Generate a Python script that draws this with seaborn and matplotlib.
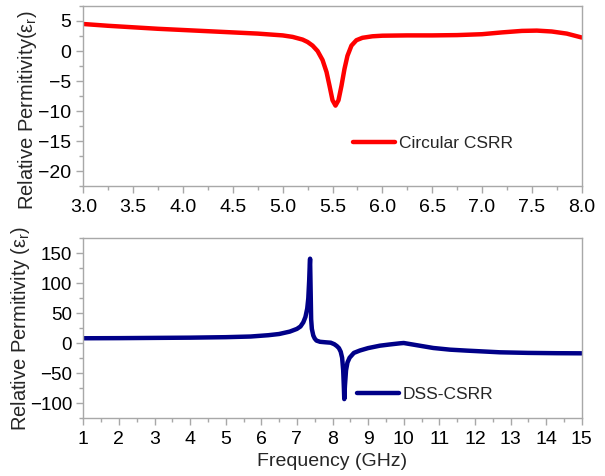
import numpy as np
import pandas as pd
import matplotlib
matplotlib.use("Agg")
import matplotlib.pyplot as plt
import seaborn as sns
from matplotlib.ticker import MultipleLocator

# Circular CSRR permittivity vs frequency (GHz)
freq_circ = [3.0, 3.25, 3.5, 3.75, 4.0, 4.25, 4.5, 4.75, 5.0, 5.1, 5.2, 5.25,
             5.3, 5.35, 5.4, 5.44, 5.47, 5.50, 5.53, 5.56, 5.59, 5.62, 5.65,
             5.69, 5.74, 5.8, 5.9, 6.0, 6.25, 6.5, 6.75, 7.0, 7.2, 7.4, 7.55,
             7.7, 7.85, 8.0]
eps_circ = [4.5, 4.2, 3.95, 3.7, 3.5, 3.3, 3.1, 2.9, 2.6, 2.35, 1.9, 1.5,
            0.9, 0.0, -1.5, -3.5, -5.8, -8.2, -9.1, -8.2, -5.8, -3.0, -0.8,
            0.9, 1.8, 2.2, 2.45, 2.55, 2.6, 2.6, 2.65, 2.8, 3.1, 3.35, 3.4,
            3.25, 2.9, 2.25]

# DSS-CSRR permittivity vs frequency (GHz)
freq_dss = [1, 2, 3, 4, 5, 5.7, 6.2, 6.5, 6.8, 7.0, 7.1, 7.18, 7.24, 7.29,
            7.32, 7.345, 7.36, 7.37, 7.385, 7.40, 7.42, 7.46, 7.5, 7.55, 7.65,
            7.8, 7.95, 8.05, 8.12, 8.18, 8.23, 8.27, 8.30, 8.32, 8.33, 8.35,
            8.38, 8.42, 8.48, 8.6, 8.77, 9.0, 9.33, 9.6, 9.9, 10.0, 10.2, 10.5,
            10.83, 11.3, 11.77, 12.7, 13.5, 14.3, 15]
eps_dss = [8.4, 8.6, 9.0, 9.4, 10.2, 11.3, 13.5, 15.5, 19.5, 24, 28, 35, 44,
           58, 75, 105, 130, 141, 90, 40, 24, 13, 8, 4.5, 2.5, 1.7, 1.0, -1.5,
           -4.5, -8, -14, -24, -45, -75, -93, -70, -45, -32, -24, -16, -12, -8,
           -4, -2, 0, 0.5, -1.5, -4.5, -7.8, -10.6, -12.2, -15, -16, -16.5,
           -16.7]

top_xticks = [3.0, 3.5, 4.0, 4.5, 5.0, 5.5, 6.0, 6.5, 7.0, 7.5, 8.0]
top_yticks = [5, 0, -5, -10, -15, -20]
bot_xticks = list(range(1, 16))
bot_yticks = [150, 100, 50, 0, -50, -100]

sns.set_style("ticks")
plt.rcParams["font.family"] = ["Liberation Sans", "DejaVu Sans"]
plt.rcParams["mathtext.fontset"] = "custom"
plt.rcParams["mathtext.rm"] = "Liberation Sans"
plt.rcParams["mathtext.it"] = "Liberation Sans"

spine_gray = "#a8a8a8"

fig = plt.figure(figsize=(6.05, 4.76), dpi=100)
ax1 = fig.add_axes([0.1377, 0.6092, 0.8238, 0.3782])
ax2 = fig.add_axes([0.1377, 0.1212, 0.8238, 0.3782])

df1 = pd.DataFrame({"f": freq_circ, "eps": eps_circ})
df2 = pd.DataFrame({"f": freq_dss, "eps": eps_dss})

sns.lineplot(data=df1, x="f", y="eps", ax=ax1, color="#ff0000", lw=3.2,
             label="Circular CSRR", sort=True)
sns.lineplot(data=df2, x="f", y="eps", ax=ax2, color="#000088", lw=3.2,
             label="DSS-CSRR", sort=True)

ax1.set_xlim(3.0, 8.0)
ax1.set_ylim(-22.5, 7.5)
ax1.set_xticks(top_xticks)
ax1.set_xticklabels([f"{v:.1f}" for v in top_xticks])
ax1.set_yticks(top_yticks)
ax1.xaxis.set_minor_locator(MultipleLocator(0.25))
ax1.yaxis.set_minor_locator(MultipleLocator(2.5))

ax2.set_xlim(1, 15)
ax2.set_ylim(-125, 175)
ax2.set_xticks(bot_xticks)
ax2.set_yticks(bot_yticks)
ax2.xaxis.set_minor_locator(MultipleLocator(0.5))
ax2.yaxis.set_minor_locator(MultipleLocator(25))

for ax in (ax1, ax2):
    for s in ax.spines.values():
        s.set_visible(True)
        s.set_color(spine_gray)
        s.set_linewidth(1.0)
    ax.tick_params(which="major", direction="out", length=5, width=1,
                   color=spine_gray, labelsize=14, labelcolor="black", pad=4)
    ax.tick_params(which="minor", direction="out", length=3, width=1,
                   color=spine_gray)
    ax.tick_params(top=False, right=False, which="both")
ax2.tick_params(axis="y", which="major", labelsize=13.5, pad=3)

ax1.set_xlabel("")
ax1.set_ylabel(r"Relative Permitivity($\mathregular{\varepsilon_r}$)", fontsize=14.5)
ax1.yaxis.set_label_coords(-0.088, 0.42)
ax2.set_xlabel("Frequency (GHz)", fontsize=14, labelpad=4)
ax2.set_ylabel(r"Relative Permitivity ($\mathregular{\varepsilon_r}$)", fontsize=14.5)
ax2.yaxis.set_label_coords(-0.103, 0.5)

ax1.legend(loc="center left", bbox_to_anchor=(0.541, 0.237), frameon=False,
           fontsize=12.5, handlelength=2.4, handletextpad=0.25,
           borderpad=0, borderaxespad=0)
ax2.legend(loc="center left", bbox_to_anchor=(0.549, 0.133), frameon=False,
           fontsize=12.5, handlelength=2.4, handletextpad=0.25,
           borderpad=0, borderaxespad=0)

fig.savefig("out.png", dpi=100)
